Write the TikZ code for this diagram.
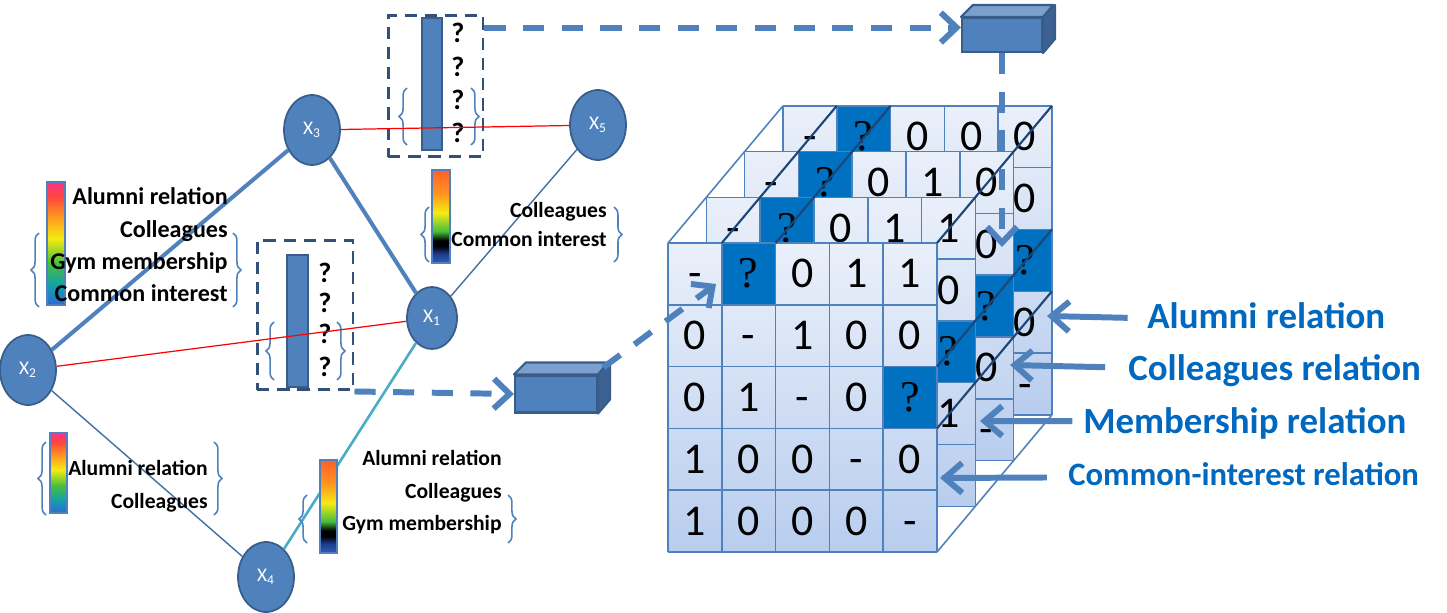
\documentclass[tikz,border=0pt]{standalone}
\usepackage{fontspec}
\setmainfont{Carlito}
\newfontfamily\qmarkfont{Liberation Serif}
\usepackage{tikz}
\usetikzlibrary{arrows.meta,calc,decorations.pathreplacing,shapes.geometric,positioning}

\definecolor{nodeblue}{RGB}{79,129,189}
\definecolor{nodeedge}{RGB}{56,93,138}
\definecolor{dashedge}{RGB}{50,80,120}
\definecolor{darkcell}{RGB}{0,112,192}
\definecolor{diagline}{RGB}{28,70,120}
\definecolor{relblue}{RGB}{0,104,190}
\definecolor{tealedge}{RGB}{75,172,198}
\definecolor{cellTop}{RGB}{234,240,250}
\definecolor{cellBot}{RGB}{184,205,238}
\definecolor{rbBlue}{RGB}{45,105,215}
\definecolor{rbCyan}{RGB}{20,160,170}
\definecolor{rbGreen}{RGB}{70,190,60}
\definecolor{rbYellow}{RGB}{245,235,20}
\definecolor{rbOrange}{RGB}{255,150,30}
\definecolor{rbRed}{RGB}{255,70,60}
\definecolor{rbPink}{RGB}{250,50,140}
\definecolor{hbNavy}{RGB}{30,60,140}
\definecolor{hbBlue}{RGB}{50,90,190}
\definecolor{hbTop}{RGB}{255,95,40}

\pgfdeclareverticalshading{rainbowbar}{100bp}{color(0bp)=(rbBlue); color(25bp)=(rbBlue); color(33bp)=(rbCyan); color(42bp)=(rbGreen); color(52bp)=(rbYellow); color(61bp)=(rbOrange); color(69bp)=(rbRed); color(75bp)=(rbPink); color(100bp)=(rbPink)}
\pgfdeclareverticalshading{heatbar}{100bp}{color(0bp)=(hbBlue); color(25bp)=(hbBlue); color(30bp)=(hbNavy); color(34bp)=(black); color(37bp)=(black); color(42bp)=(rbGreen); color(52bp)=(rbYellow); color(62bp)=(rbOrange); color(75bp)=(hbTop); color(100bp)=(hbTop)}

\tikzset{
	person/.style={ellipse, draw=nodeedge, line width=1pt, fill=nodeblue, text=white,
		inner sep=0pt, minimum width=1.12cm, minimum height=1.4cm, font=\fontsize{11}{13}\selectfont},
	strongtie/.style={draw=nodeblue, line width=2.3pt},
	weaktie/.style={draw=nodeblue!85!black, line width=0.8pt},
	redtie/.style={draw=red, line width=0.7pt},
	tealtie/.style={draw=tealedge, line width=1.5pt},
	qbox/.style={draw=dashedge, line width=1.7pt, dash pattern=on 7pt off 4.5pt, inner sep=0pt},
	qbar/.style={fill=nodeblue, draw=nodeedge, line width=0.8pt, inner sep=0pt},
	qmark/.style={font=\fontsize{16}{18}\selectfont\bfseries, inner sep=0pt},
	cbar/.style={draw=nodeblue, line width=0.8pt, inner sep=0pt, shade},
	cbtext/.style={anchor=mid east, inner sep=0pt, font=\fontsize{12.3}{14}\selectfont\bfseries},
	cbbig/.style={cbtext, font=\fontsize{13.7}{16}\selectfont\bfseries},
	curly/.style={draw=nodeblue, line width=0.9pt, decorate, decoration={brace, amplitude=4.5pt}},
	cubefront/.style={fill=nodeblue, draw=nodeedge, line width=1.2pt, inner sep=0pt},
	cubetop/.style={fill=nodeblue!75!white, draw=nodeedge, line width=1.2pt, line join=round},
	cubeside/.style={fill=nodeedge!85!nodeblue, draw=nodeedge, line width=1.2pt, line join=round},
	dasharrow/.style={draw=nodeblue, line width=3.4pt, dash pattern=on 12pt off 10pt,
		-{Straight Barb[length=9pt,width=17pt]}},
	relarrow/.style={draw=nodeblue, line width=3.4pt, -{Straight Barb[length=10pt,width=17pt]}},
	relname/.style={anchor=mid west, inner sep=0pt, text=relblue, font=\fontsize{21}{25}\selectfont\bfseries},
	gridline/.style={draw=nodeblue, line width=0.9pt},
	cubeedge/.style={draw=diagline, line width=1.2pt},
	cellnum/.style={inner sep=0pt, text height=16pt, text depth=0pt, font=\fontsize{25}{30}\selectfont},
}

\newcommand{\qm}{{\qmarkfont ?}}
% one slice of the relation tensor, #1 = depth (0 = front)
\newcommand{\drawlayer}[2]{%
	\pgfmathsetmacro\layx{668+38.3*#1}
	\pgfmathsetmacro\layy{243-45.7*#1}
	\shade[top color=cellTop, bottom color=cellBot] (\layx,\layy) rectangle ++(269,309);
	\fill[darkcell] (\layx+53.8,\layy) rectangle ++(53.8,61.8);
	\fill[darkcell] (\layx+215.2,\layy+123.6) rectangle ++(53.8,61.8);
	\foreach \i in {0,...,5} {
		\draw[gridline] (\layx+53.8*\i,\layy) -- ++(0,309);
		\draw[gridline] (\layx,\layy+61.8*\i) -- ++(269,0);
	}
	\foreach \v [count=\n from 0] in {#2} {
		\pgfmathtruncatemacro\cellr{\n/5}
		\pgfmathtruncatemacro\cellc{mod(\n,5)}
		% only the cells that stay visible
		\pgfmathtruncatemacro\cellshow{(#1==0)||(\cellr==0)||(\cellc==4)}
		\ifnum\cellshow=1
			\node[cellnum] (m#1-\cellr-\cellc) at (\layx+53.8*\cellc+26.9,\layy+61.8*\cellr+30.9) {\v};
		\fi
	}
}

\begin{document}
\begin{tikzpicture}[x=0.02cm,y=-0.02cm]
	\useasboundingbox (0,0) rectangle (1447,612);
	
	% boxes with unknown relations
	\node[qbox, minimum width=1.9cm, minimum height=2.84cm] (qtop) at (435.5,86) {};
	\node[qbar, minimum width=0.4cm, minimum height=2.64cm] (qtopbar) at (432,84) {};
	\foreach \y [count=\i] in {33,67,100,133}
		\node[qmark] (qtm\i) at (458,\y) {?};
	\draw[curly] (407,145) -- (407,88);
	\draw[curly] (471,88) -- (471,145);
	
	\node[qbox, minimum width=1.92cm, minimum height=3.0cm] (qbot) at (305,315) {};
	\node[qbar, minimum width=0.42cm, minimum height=2.64cm] (qbotbar) at (297.5,321) {};
	\foreach \y [count=\i] in {273,303,334,367}
		\node[qmark] (qbm\i) at (325,\y) {?};
	\draw[curly] (274,380) -- (274,322);
	\draw[curly] (337,322) -- (337,380);
	
	% people
	\node[person] (x3) at (312,130) {X\textsubscript{3}};
	\node[person] (x2) at (28,370) {X\textsubscript{2}};
	\node[person, minimum width=1.0cm, minimum height=1.24cm] (x1) at (432,318) {X\textsubscript{1}};
	\node[person] (x5) at (598,125) {X\textsubscript{5}};
	\node[person] (x4) at (266,577) {X\textsubscript{4}};
	
	\draw[strongtie] (x2) -- (x3);
	\draw[strongtie] (x3) -- (x1);
	\draw[redtie] (x2) -- (x1);
	\draw[redtie] (x3) -- (x5);
	\draw[weaktie] (x2) -- (x4);
	\draw[weaktie] (x1) -- (x5);
	\draw[tealtie] (x1) -- (x4);
	
	% colour bars of known relations
	\node[cbar, shading=rainbowbar, minimum width=0.36cm, minimum height=2.46cm] (bar1) at (56,243.5) {};
	\node[cbbig] (t1a) at (228,200) {Alumni relation};
	\node[cbbig] (t1b) at (228,233) {Colleagues};
	\node[cbbig] (t1c) at (228,265) {Gym membership};
	\node[cbbig] (t1d) at (228,297) {Common interest};
	\draw[curly] (39,307) -- (39,233);
	\draw[curly] (233,233) -- (233,307);
	
	\node[cbar, shading=heatbar, minimum width=0.36cm, minimum height=1.86cm] (bar2) at (441,216.5) {};
	\node[cbtext] (t2a) at (607,213) {Colleagues};
	\node[cbtext] (t2b) at (607,242) {Common interest};
	\draw[curly] (429,262) -- (429,207);
	\draw[curly] (614,207) -- (614,262);
	
	\node[cbar, shading=rainbowbar, minimum width=0.34cm, minimum height=1.6cm] (bar3) at (58.5,473) {};
	\node[cbtext] (t3a) at (208,471) {Alumni relation};
	\node[cbtext] (t3b) at (208,504) {Colleagues};
	\draw[curly] (46,515) -- (46,442);
	\draw[curly] (214,442) -- (214,515);
	
	\node[cbar, shading=heatbar, minimum width=0.34cm, minimum height=1.86cm] (bar4) at (328.5,506.5) {};
	\node[cbtext] (t4a) at (502,461) {Alumni relation};
	\node[cbtext] (t4b) at (502,494) {Colleagues};
	\node[cbtext] (t4c) at (502,526) {Gym membership};
	\draw[curly] (307,543) -- (307,495);
	\draw[curly] (508,495) -- (508,543);
	
	% relation tensor, back to front
	\drawlayer{3}{-,\qm,0,0,0, 0,-,0,0,0, 0,0,-,1,\qm, 0,0,1,-,0, 0,0,0,0,-}
	\drawlayer{2}{-,\qm,0,1,0, 0,-,0,1,0, 0,0,-,0,\qm, 1,1,0,-,0, 0,0,0,0,-}
	\drawlayer{1}{-,\qm,0,1,1, 0,-,1,0,0, 0,1,-,0,\qm, 1,0,0,-,1, 1,0,0,1,-}
	\drawlayer{0}{-,\qm,0,1,1, 0,-,1,0,0, 0,1,-,0,\qm, 1,0,0,-,0, 1,0,0,0,-}
	\draw[gridline] (668,243) -- ++(114.9,-137.1);
	\draw[gridline] (937,552) -- ++(114.9,-137.1);
	\foreach \xx in {721.8,775.6,937}
		\draw[cubeedge] (\xx,243) -- ++(114.9,-137.1);
	\foreach \yy in {366.6,428.4}
		\draw[cubeedge] (937,\yy) -- ++(114.9,-137.1);
	
	% predictors
	\node[cubefront, minimum width=1.6cm, minimum height=0.68cm] (boxT) at (1002,35) {};
	\filldraw[cubetop] (boxT.north west) -- ++(12,-12) -- ++(80,0) -- (boxT.north east) -- cycle;
	\filldraw[cubeside] (boxT.north east) -- ++(12,-12) -- ++(0,34) -- (boxT.south east) -- cycle;
	
	\node[cubefront, minimum width=1.64cm, minimum height=0.74cm] (boxB) at (556,394) {};
	\filldraw[cubetop] (boxB.north west) -- ++(12,-12) -- ++(82,0) -- (boxB.north east) -- cycle;
	\filldraw[cubeside] (boxB.north east) -- ++(12,-12) -- ++(0,37) -- (boxB.south east) -- cycle;
	
	\coordinate (qout) at ([yshift=-8pt]qtop.north east);
	\coordinate (mtop) at (1002,247);
	\coordinate (mfront) at (716,284);
	\draw[dasharrow] (qout) -- (qout -| boxT.west);
	\draw[dasharrow] (boxT.south) -- (mtop);
	\draw[dasharrow] (qbot.south east) -- (boxB.west);
	\draw[dasharrow] ([xshift=3pt,yshift=4pt]boxB.north east) -- (mfront);
	
	% relation names
	\node[relname] (lalum) at (1147,324) {Alumni relation};
	\node[relname] (lcoll) at (1128,376) {Colleagues relation};
	\node[relname] (lmemb) at (1083,429) {Membership relation};
	\node[relname, font=\fontsize{18.6}{22}\selectfont\bfseries] (lcomm) at (1068,481) {Common-interest relation};
	\coordinate (a4) at (1047,316);
	\coordinate (a3) at (1010,365);
	\coordinate (a2) at (980,421);
	\coordinate (a1) at (940,478);
	\draw[relarrow] ([xshift=-11pt,yshift=3.5pt]lalum.mid west) -- (a4);
	\draw[relarrow] ([xshift=-13pt,yshift=5pt]lcoll.mid west) -- (a3);
	\draw[relarrow] ([xshift=-6pt,yshift=4.5pt]lmemb.mid west) -- (a2);
	\draw[relarrow] ([xshift=-12pt,yshift=2pt]lcomm.mid west) -- (a1);
\end{tikzpicture}
\end{document}
